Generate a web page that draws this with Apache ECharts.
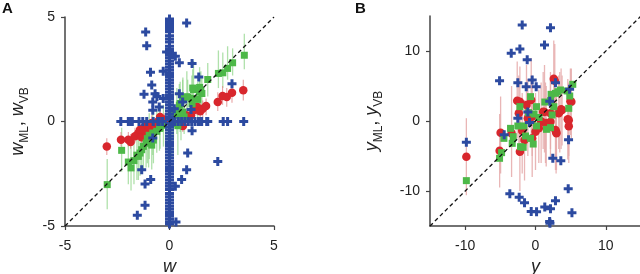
<!DOCTYPE html>
<html><head><meta charset="utf-8">
<script src="https://cdn.jsdelivr.net/npm/echarts@6/dist/echarts.min.js"></script>
<style>html,body{margin:0;padding:0;background:#fff}#c{width:640px;height:274px}</style>
</head><body><div id="c"></div>
<script>
// ---------- Panel A data ----------
const aTicks = [-5, 0, 5];
const aColumnY = [4.9,4.85,4.8,4.75,4.7,4.6,4.5,4.4,4.3,4.1,3.95,3.8,3.6,3.45,3.35,3.2,3.05,2.9,2.75,2.6,2.45,2.3,2.15,2.0,1.85,1.7,1.55,1.4,1.25,1.1,0.95,0.8,0.65,0.5,0.35,0.2,0.1,-0.1,-0.25,-0.4,-0.55,-0.7,-0.85,-1.0,-1.15,-1.3,-1.45,-1.6,-1.75,-1.9,-2.05,-2.2,-2.35,-2.5,-2.65,-2.8,-2.95,-3.1,-3.25,-3.45,-3.6,-3.75,-3.9,-4.05,-4.2,-4.35,-4.5,-4.65,-4.8,-4.9];
const aRowX = [-2.33,-1.97,-1.86,-1.78,-1.46,-1.28,-1.09,-0.78,-0.56,-0.49,-0.33,0.15,0.26,0.42,0.58,0.74,0.9,1.06,1.22,1.38,1.43,1.54,1.78,1.83,2.57,2.78,3.55];
const aBlueScatter = [[-1.14,4.28],[-1.09,3.62],[-0.91,2.36],[-0.30,2.40],[-0.85,1.75],[-1.22,1.30],[-0.69,1.33],[-0.60,1.20],[-0.80,0.93],[-0.30,1.10],[-0.80,0.54],[-0.49,0.69],[-0.14,3.33],
 [0.82,4.71],[0.28,3.12],[0.47,2.81],[1.08,2.77],[1.40,2.13],[0.47,1.33],[0.63,0.93],[1.03,0.58],[0.23,0.61],[2.99,1.81],
 [1.08,-0.44],[0.87,-1.51],[2.31,-1.91],[0.82,-2.31],[0.58,-2.78],[0.28,-3.10],[0.31,-4.81],
 [-1.33,-2.31],[-0.90,-2.78],[-1.17,-2.99],[-1.17,-4.01],[-1.54,-4.49],[-0.80,-0.79]];
// [x, y, barLow, barHigh]
const aGreen = [[3.58,3.17,2.5,4.2],[3.02,2.81,2.2,3.5],[2.78,2.54,2.0,3.6],[2.55,2.33,1.6,3.3],[2.34,2.30,1.6,3.4],[1.83,2.01,1.2,2.8],[1.44,1.63,0.8,2.6],[1.50,1.50,0.6,2.4],[1.15,1.53,0.6,2.9],[1.11,1.60,0.7,2.5],[1.43,1.41,0.5,2.2],[1.07,1.10,0.2,2.2],[0.83,1.18,0.3,2.4],[0.87,1.17,0.2,2.0],[0.64,1.05,0.1,2.1],[0.63,1.12,0.2,2.0],[0.51,0.86,-0.2,1.9],[0.47,0.78,-0.3,1.8],[1.35,1.06,0.2,1.9],[1.08,0.85,0.0,1.7],[0.35,0.54,-0.6,1.6],[0.63,0.45,-0.4,1.3],[0.70,0.22,-0.6,1.1],[0.19,0.30,-0.8,1.4],[0.51,0.30,-0.5,1.2],[1.55,1.34,0.5,2.1],
 [-2.98,-3.02,-4.2,-1.8],[-2.29,-1.38,-2.4,-0.3],[-1.84,-2.22,-3.3,-1.2],[-1.97,-1.94,-3.0,-1.0],[-1.70,-1.87,-3.0,-0.8],[-1.56,-1.61,-2.8,-0.5],[-1.49,-1.67,-2.8,-0.7],[-1.41,-1.51,-2.6,-0.5],[-1.33,-1.35,-2.5,-0.3],[-1.25,-1.19,-2.3,-0.2],[-1.12,-1.03,-2.2,0.0],[-1.06,-0.82,-2.0,0.2],[-1.00,-1.02,-2.2,0.0],[-0.97,-0.66,-1.8,0.4],[-0.85,-1.13,-2.3,0.0],[-0.80,-0.55,-1.6,0.5],[-0.77,-0.89,-2.0,0.2],[-0.61,-0.47,-1.5,0.6],[-0.48,-0.33,-1.4,0.6],[-0.45,-0.31,-1.3,0.7],[-0.29,-0.18,-1.2,0.8],[0.10,-0.10,-1.8,0.8],[0.40,-0.20,-1.6,0.5],[0.55,0.10,-0.9,1.0]];
const aRed = [[-3.00,-1.20,-1.6,-0.8],[-2.32,-0.87,-1.2,-0.5],[-1.97,-0.87,-1.2,-0.5],[-1.86,-0.98,-1.3,-0.6],[-1.65,-0.71,-1.0,-0.3],[-1.49,-0.55,-0.9,-0.2],[-1.41,-0.39,-0.8,0.0],[-1.33,-0.75,-1.1,-0.4],[-1.25,-0.31,-0.7,0.1],[-1.20,-0.45,-0.8,-0.1],[-1.12,-0.54,-0.9,-0.2],[-1.06,-0.15,-0.5,0.2],[-0.95,-0.30,-0.6,0.0],[-0.85,-0.07,-0.4,0.3],[-0.69,-0.18,-0.5,0.1],[-0.54,0.01,-0.3,0.3],[-0.45,0.22,-0.1,0.5],[-0.25,0.10,-0.2,0.4],[0.10,0.05,-0.3,0.4],[0.64,-0.22,-0.5,0.1],[0.64,0.30,0.0,0.6],[0.79,0.30,0.0,0.6],[0.92,0.14,-0.2,0.5],[1.03,0.30,-0.1,0.7],[1.20,0.55,0.2,0.9],[1.31,0.70,0.3,1.1],[1.47,0.49,0.1,0.9],[1.59,0.61,0.2,1.0],[1.75,0.74,0.3,1.1],[2.31,0.93,0.5,1.4],[2.54,1.22,0.8,1.7],[2.74,1.17,0.7,1.6],[2.99,1.38,0.9,1.8],[3.53,1.49,1.0,2.0]];

// ---------- Panel B data ----------
const bTicks = [-10, 0, 10];
const bBlue = [[-1.89,13.71],[2.13,13.33],[-2.22,10.29],[-3.45,9.67],[1.28,10.86],[-1.18,8.76],[-5.11,5.76],[-2.51,5.48],[-0.47,5.86],[-1.32,4.90],[0.10,4.90],[2.84,5.47],[4.85,4.52],[2.03,2.83],[-1.09,1.29],[-2.51,0.40],[-0.85,-0.20],[-4.45,-1.98],[-9.83,-3.03],[4.70,-2.69],[2.46,-5.31],[3.60,-5.67],[4.65,-9.69],[-3.65,-10.38],[-2.32,-10.88],[-1.56,-11.69],[-0.61,-12.93],[0.15,-12.98],[1.32,-12.28],[2.13,-12.55],[2.84,-11.40],[5.18,-13.10],[2.01,-14.35],[2.05,-14.60]];
const bRed = [[-9.83,-5.10,-10.6,0.4],[-4.96,-1.67,-7.5,3.5],[-5.10,-4.24,-9.5,1.0],[-3.40,-1.76,-8.0,5.0],[-2.60,2.90,-2.5,8.5],[-2.22,2.76,-3.0,7.8],[-2.22,-4.38,-10.0,2.0],[-2.37,1.10,-5.0,6.5],[-1.89,-1.38,-7.5,4.0],[-1.56,-2.71,-8.5,3.0],[-1.28,2.29,-3.5,8.0],[-1.09,0.38,-5.0,6.0],[-0.61,3.00,-3.0,9.0],[-0.47,-2.47,-8.0,3.5],[-0.47,0.62,-5.0,6.5],[0.00,-1.52,-7.0,4.0],[0.47,-1.05,-6.0,4.5],[0.80,-0.05,-6.0,5.5],[1.09,1.33,-4.0,7.0],[1.28,1.29,-4.5,8.0],[1.42,-0.33,-6.0,5.5],[1.52,-0.29,-6.5,5.0],[2.13,-0.10,-5.5,6.0],[2.13,1.10,-4.0,7.0],[2.60,6.05,0.0,11.5],[2.74,5.76,0.5,11.0],[2.84,-1.29,-7.0,4.5],[2.93,-1.57,-7.5,4.0],[2.98,-1.76,-7.0,3.5],[3.30,1.10,-4.0,6.5],[3.45,1.33,-4.5,7.0],[3.64,1.67,-4.0,7.5],[3.78,1.57,-3.5,6.5],[4.59,0.24,-5.5,6.0],[4.73,-0.76,-6.0,5.0],[4.73,0.10,-5.0,5.5],[4.96,2.81,-2.0,7.5],[5.10,2.76,-2.5,7.5]];
const bGreen = [[-9.83,-8.52],[-5.11,-5.33],[-4.82,-4.52],[-4.49,-2.48],[-3.17,-2.24],[-3.55,-1.05],[-3.31,-3.19],[-2.22,2.05],[-2.13,-3.67],[-1.75,-3.76],[-2.51,-0.71],[-1.65,-0.71],[-1.42,-2.14],[-0.71,3.48],[-0.71,-2.48],[-0.33,-3.29],[0.14,-0.71],[0.14,2.05],[1.32,2.71],[1.56,-1.19],[2.13,-0.95],[2.13,2.90],[2.22,3.81],[2.60,2.05],[2.84,3.95],[3.17,4.19],[3.55,4.43],[4.49,4.29],[4.87,3.57],[4.73,1.81],[5.30,5.24],[2.36,0.86],[-0.20,1.00],[0.50,0.50],[-1.00,1.20]];

const FONT = 'Liberation Sans, Arial, sans-serif';
const BLUE = '#2c4aa0', RED = '#d8262c', GREEN = '#4db848';
const PLUS = 'path://M3,0h3v3h3v3h-3v3h-3v-3h-3v-3h3z';

function xAx(gi, min, max, interval, ticks, name) {
  return {type:'value', gridIndex:gi, min, max, interval,
    axisLine:{onZero:false, lineStyle:{color:'#444', width:1.5}},
    axisTick:{show:true, length:4, customValues:ticks, lineStyle:{color:'#444', width:1.2}},
    axisLabel:{customValues:ticks, color:'#222', fontSize:14, fontFamily:FONT, margin:13},
    splitLine:{show:false},
    name, nameLocation:'middle', nameGap:31,
    nameTextStyle:{fontStyle:'italic', fontSize:18, color:'#222', fontFamily:FONT}};
}
function yAx(gi, min, max, interval, ticks, letter, gap) {
  return {type:'value', gridIndex:gi, min, max, interval,
    axisLine:{onZero:false, lineStyle:{color:'#444', width:1.5}},
    axisTick:{show:true, length:4, customValues:ticks, lineStyle:{color:'#444', width:1.2}},
    axisLabel:{customValues:ticks, color:'#222', fontSize:14, fontFamily:FONT, margin:10},
    splitLine:{show:false},
    name:'{i|'+letter+'}{s|ML}{c|, }{i|'+letter+'}{s|VB}', nameLocation:'middle', nameGap:gap, nameRotate:90,
    nameTextStyle:{color:'#222', fontFamily:FONT, rich:{
      i:{fontStyle:'italic', fontSize:18, lineHeight:26, verticalAlign:'middle', fontFamily:FONT, color:'#222'},
      c:{fontSize:18, lineHeight:26, verticalAlign:'middle', fontFamily:FONT, color:'#222'},
      s:{fontSize:12, lineHeight:14, verticalAlign:'bottom', fontFamily:FONT, color:'#222'}}}};
}
function errBars(data, gi, color, width, opacity) {
  return {type:'custom', xAxisIndex:gi, yAxisIndex:gi, silent:true, z:1, clip:true,
    data:data.map(d=>[d[0], d[2], d[3]]), encode:{x:0, y:[1,2]},
    renderItem:(p, api)=>{
      const a = api.coord([api.value(0), api.value(1)]);
      const b = api.coord([api.value(0), api.value(2)]);
      return {type:'line', shape:{x1:a[0], y1:a[1], x2:b[0], y2:b[1]}, style:{stroke:color, lineWidth:width, opacity}};
    }};
}
function scat(data, gi, symbol, size, color, z) {
  return {type:'scatter', xAxisIndex:gi, yAxisIndex:gi, symbol, symbolSize:size, z, silent:true,
    itemStyle:{color, opacity:1}, data:data.map(d=>[d[0], d[1]])};
}
function diag(gi, lo, hi) {
  return {type:'line', xAxisIndex:gi, yAxisIndex:gi, data:[[lo,lo],[hi,hi]], symbol:'none', z:10, silent:true,
    lineStyle:{color:'#111', width:1.3, type:[4,3]}};
}

const chart = echarts.init(document.getElementById('c'), null, {renderer:'canvas'});
chart.setOption({
  animation:false,
  backgroundColor:'#fff',
  grid:[{left:65, top:17, width:209, height:209, outerBoundsMode:'none', containLabel:false},
        {left:430, top:16, width:211, height:210, outerBoundsMode:'none', containLabel:false}],
  xAxis:[xAx(0,-5,5,5,aTicks,'w'), xAx(1,-15,15,5,bTicks,'y')],
  yAxis:[yAx(0,-5,5,5,aTicks,'w',34), yAx(1,-15,15,5,bTicks,'y',45)],
  graphic:[
    {type:'text', left:2, top:1, style:{text:'A', font:'bold 15px '+FONT, fill:'#111'}},
    {type:'text', left:355, top:1, style:{text:'B', font:'bold 15px '+FONT, fill:'#111'}}
  ],
  series:[
    errBars(aGreen, 0, '#8fd488', 1.3, 0.7),
    errBars(aRed, 0, '#e08a8a', 1.1, 0.8),
    scat(aRed, 0, 'circle', 8.5, RED, 3),
    scat(aGreen, 0, 'rect', 7, GREEN, 4),
    scat(aColumnY.map(y=>[0,y]), 0, PLUS, 9, BLUE, 5),
    scat(aRowX.map(x=>[x,0]), 0, PLUS, 9, BLUE, 5),
    scat(aBlueScatter, 0, PLUS, 9, BLUE, 5),
    diag(0, -5, 5),
    errBars(bRed, 1, '#e5a9a9', 1.3, 0.85),
    scat(bRed, 1, 'circle', 8.5, RED, 3),
    scat(bGreen, 1, 'rect', 7, GREEN, 4),
    scat(bBlue, 1, PLUS, 9, BLUE, 5),
    diag(1, -15, 15)
  ]
});
</script></body></html>
